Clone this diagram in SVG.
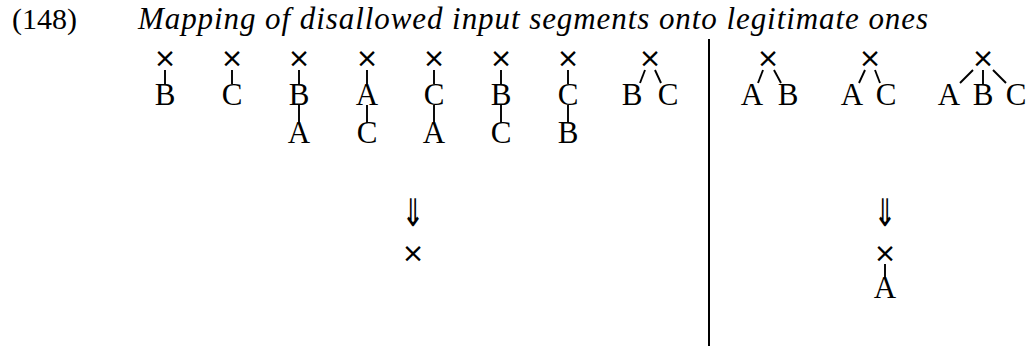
<svg xmlns="http://www.w3.org/2000/svg" width="1031" height="346" viewBox="0 0 1031 346">
<style>
.t{font-family:"Liberation Serif",serif;font-size:30px;fill:#000}
.it{font-family:"Liberation Serif",serif;font-style:italic;font-size:31px;fill:#000}
.n{font-family:"Liberation Serif",serif;font-size:31px;fill:#000;text-anchor:middle}
.x{font-family:"DejaVu Sans",sans-serif;font-size:27px;fill:#000;text-anchor:middle}
.ar{font-family:"DejaVu Sans",sans-serif;font-size:38px;fill:#000;text-anchor:middle}
.e{stroke:#000;stroke-width:1.9;fill:none}
</style>
<rect width="1031" height="346" fill="#fff"/>
<text class="t" x="12" y="29">(148)</text>
<text class="it" x="138" y="29" textLength="790" lengthAdjust="spacing">Mapping of disallowed input segments onto legitimate ones</text>
<line x1="709" y1="39" x2="709" y2="346" stroke="#000" stroke-width="2"/>
<g id="t1"><g id="t1r"><text class="x" x="165" y="67">×</text></g><g id="t1a"><text class="n" x="165" y="105">B</text></g></g>
<g id="t2"><g id="t2r"><text class="x" x="232" y="67">×</text></g><g id="t2a"><text class="n" x="232" y="105">C</text></g></g>
<g id="t3"><g id="t3r"><text class="x" x="299" y="67">×</text></g><g id="t3a"><text class="n" x="299" y="105">B</text></g><g id="t3b"><text class="n" x="299" y="143">A</text></g></g>
<g id="t4"><g id="t4r"><text class="x" x="367" y="67">×</text></g><g id="t4a"><text class="n" x="367" y="105">A</text></g><g id="t4b"><text class="n" x="367" y="143">C</text></g></g>
<g id="t5"><g id="t5r"><text class="x" x="434" y="67">×</text></g><g id="t5a"><text class="n" x="434" y="105">C</text></g><g id="t5b"><text class="n" x="434" y="143">A</text></g></g>
<g id="t6"><g id="t6r"><text class="x" x="501" y="67">×</text></g><g id="t6a"><text class="n" x="501" y="105">B</text></g><g id="t6b"><text class="n" x="501" y="143">C</text></g></g>
<g id="t7"><g id="t7r"><text class="x" x="568" y="67">×</text></g><g id="t7a"><text class="n" x="568" y="105">C</text></g><g id="t7b"><text class="n" x="568" y="143">B</text></g></g>
<g id="t8"><g id="t8r"><text class="x" x="650" y="67">×</text></g><g id="t8a"><text class="n" x="632" y="105">B</text></g><g id="t8b"><text class="n" x="668" y="105">C</text></g></g>
<g id="t9"><g id="t9r"><text class="x" x="768" y="67">×</text></g><g id="t9a"><text class="n" x="752" y="105">A</text></g><g id="t9b"><text class="n" x="788" y="105">B</text></g></g>
<g id="t10"><g id="t10r"><text class="x" x="870" y="67">×</text></g><g id="t10a"><text class="n" x="852" y="105">A</text></g><g id="t10b"><text class="n" x="886" y="105">C</text></g></g>
<g id="t11"><g id="t11r"><text class="x" x="983" y="67">×</text></g><g id="t11a"><text class="n" x="949" y="105">A</text></g><g id="t11b"><text class="n" x="983" y="105">B</text></g><g id="t11c"><text class="n" x="1016" y="105">C</text></g></g>
<g id="arrowL"><text class="ar" transform="translate(413 226) scale(0.72 1)">⇓</text></g>
<g id="outL"><g id="outLr"><text class="x" x="413" y="262">×</text></g></g>
<g id="arrowR"><text class="ar" transform="translate(885 226) scale(0.72 1)">⇓</text></g>
<g id="outR"><g id="outRr"><text class="x" x="885" y="262">×</text></g><g id="outRa"><text class="n" x="885" y="298">A</text></g></g>
<g id="connectors" class="e">
<line x1="165" y1="70" x2="165" y2="84"/>
<line x1="232" y1="70" x2="232" y2="84"/>
<line x1="299" y1="70" x2="299" y2="84"/>
<line x1="299" y1="105" x2="299" y2="123"/>
<line x1="367" y1="70" x2="367" y2="84"/>
<line x1="367" y1="105" x2="367" y2="123"/>
<line x1="434" y1="70" x2="434" y2="84"/>
<line x1="434" y1="105" x2="434" y2="123"/>
<line x1="501" y1="70" x2="501" y2="84"/>
<line x1="501" y1="105" x2="501" y2="123"/>
<line x1="568" y1="70" x2="568" y2="84"/>
<line x1="568" y1="105" x2="568" y2="123"/>
<line x1="645" y1="70" x2="640" y2="83"/>
<line x1="655" y1="70" x2="661" y2="83"/>
<line x1="763" y1="70" x2="758" y2="83"/>
<line x1="774" y1="70" x2="781" y2="83"/>
<line x1="865" y1="70" x2="859" y2="83"/>
<line x1="875" y1="70" x2="880" y2="83"/>
<line x1="973" y1="70" x2="960" y2="83"/>
<line x1="983" y1="70" x2="983" y2="84"/>
<line x1="993" y1="70" x2="1006" y2="83"/>
<line x1="885" y1="264" x2="885" y2="278"/>
</g>
</svg>
